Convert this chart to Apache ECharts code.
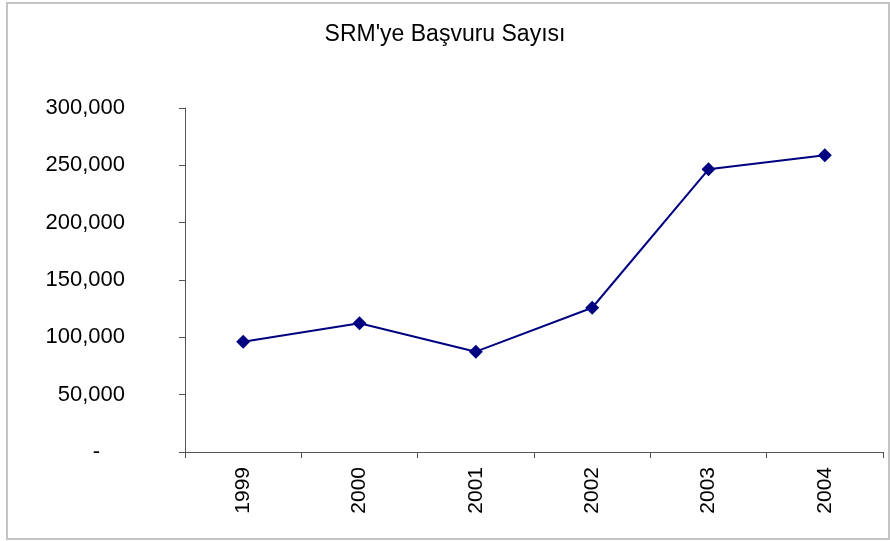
<!DOCTYPE html>
<html><head><meta charset="utf-8">
<script src="https://cdn.jsdelivr.net/npm/echarts@6/dist/echarts.min.js"></script>
<style>html,body{margin:0;padding:0;background:#fff}#c{width:890px;height:541px}</style>
</head><body><div id="c"></div>
<script>
const titleText = "SRM'ye Başvuru Sayısı";
const categories = ["1999","2000","2001","2002","2003","2004"];
const values = [96200, 112200, 87500, 125800, 246500, 258700];
const yTicks = {min: 0, max: 300000, interval: 50000};

const chart = echarts.init(document.getElementById('c'));
const font = "'Liberation Sans', Arial, sans-serif";
chart.setOption({
  backgroundColor: '#fff',
  animation: false,
  graphic: [{type:'rect', shape:{x:7,y:3,width:882,height:536}, style:{fill:null, stroke:'#c4c4c4', lineWidth:2}, silent:true}],
  title: {text: titleText, left: 'center', top: 18, textStyle:{fontFamily: font, fontSize: 23, fontWeight: 'normal', color:'#000'}},
  grid: {left: 185, right: 7, top: 108, bottom: 89, containLabel: false},
  xAxis: {
    type: 'category', data: categories, boundaryGap: true,
    axisLine: {lineStyle:{color:'#555', width:1}},
    axisTick: {show:true, inside:false, length:6, lineStyle:{color:'#555'}},
    axisLabel: {rotate: 90, margin: 15, fontFamily: font, fontSize: 21, color:'#000'}
  },
  yAxis: {
    type: 'value', min: yTicks.min, max: yTicks.max, interval: yTicks.interval,
    splitLine: {show:false},
    axisLine: {show:true, lineStyle:{color:'#555', width:1}},
    axisTick: {show:true, length:6, lineStyle:{color:'#555'}},
    axisLabel: {margin: 60, fontFamily: font, fontSize: 22, color:'#000',
      formatter: v => v === 0 ? '{d|-}' : v.toLocaleString('en-US'),
      rich: {d: {fontFamily: font, fontSize: 22, color: '#000', padding: [0, 25, 0, 0]}}}
  },
  series: [{
    type: 'line', data: values,
    symbol: 'diamond', symbolSize: 14,
    lineStyle: {color:'#000080', width: 2},
    itemStyle: {color:'#000080'}
  }]
});
</script></body></html>
